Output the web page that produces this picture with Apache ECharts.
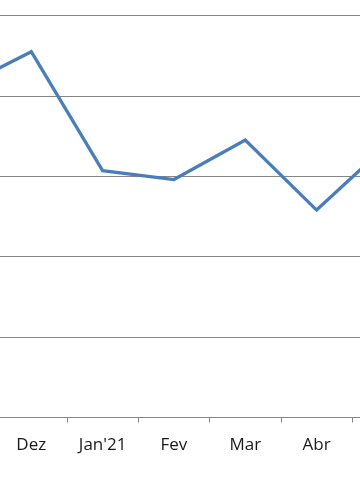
<!DOCTYPE html>
<html><head><meta charset="utf-8">
<script src="https://cdn.jsdelivr.net/npm/echarts@6/dist/echarts.min.js"></script>
<style>html,body{margin:0;padding:0;background:#fff;}#c{width:360px;height:504px;}</style>
</head><body><div id="c"></div>
<script>
const categories = ['Nov', 'Dez', "Jan'21", 'Fev', 'Mar', 'Abr', 'Mai'];
const values = [4.10, 4.55, 3.07, 2.96, 3.45, 2.58, 3.40];
const yMin = 0, yMax = 5, yInterval = 1;

const chart = echarts.init(document.getElementById('c'), null, {renderer: 'canvas'});
chart.setOption({
  animation: false,
  grid: {left: -75.7, top: 15.5, width: 499.3, height: 402, outerBoundsMode: 'none', containLabel: false},
  xAxis: {
    type: 'category', data: categories, boundaryGap: true,
    axisLine: {lineStyle: {color: '#868686', width: 1}},
    axisTick: {show: true, length: 5, lineStyle: {color: '#868686'}},
    axisLabel: {color: '#1a1a1a', fontSize: 17, fontFamily: 'Open Sans', margin: 19, interval: 0}
  },
  yAxis: {
    type: 'value', min: yMin, max: yMax, interval: yInterval,
    axisLabel: {show: false}, axisLine: {show: false}, axisTick: {show: false},
    splitLine: {lineStyle: {color: '#868686', width: 1}}
  },
  series: [{
    type: 'line', data: values, symbol: 'none',
    lineStyle: {color: '#4a7ebb', width: 3.3, join: 'miter'}
  }]
});
</script></body></html>
